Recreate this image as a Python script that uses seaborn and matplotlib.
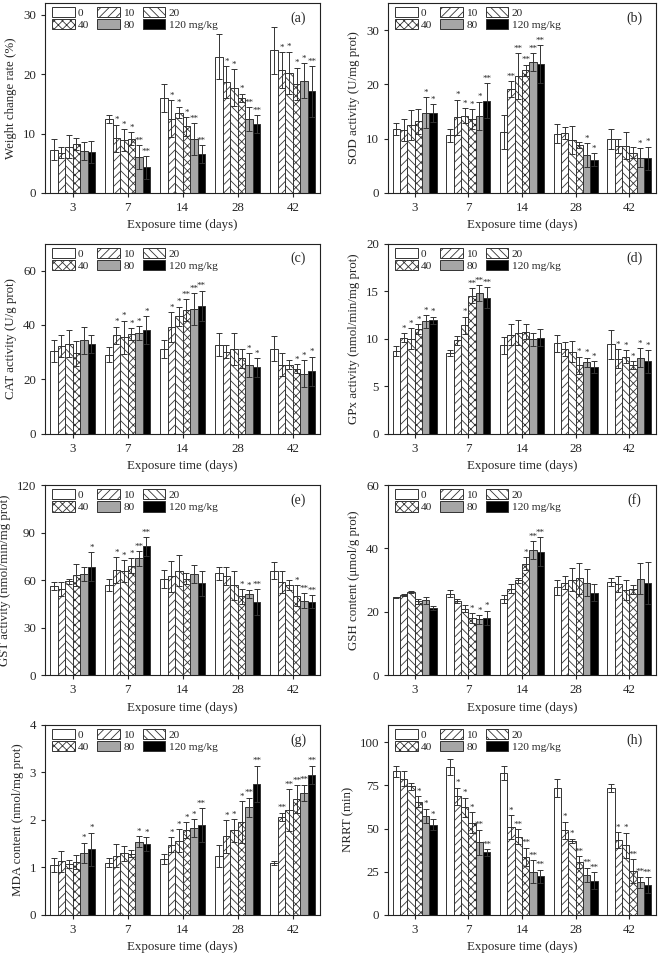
import numpy as np
import pandas as pd
import matplotlib
matplotlib.use('Agg')
import matplotlib.pyplot as plt
import seaborn as sns

days = ['3', '7', '14', '28', '42']
doses = ['0', '10', '20', '40', '80', '120 mg/kg']

# rows = exposure days, columns = doses ; "-" = no significance mark
weight_mean = [[7.3, 6.8, 7.8, 8.3, 7.1, 6.9], [12.4, 9.2, 8.9, 9.1, 6.1, 4.3], [16.0, 12.5, 13.5, 11.2, 9.0, 6.6],
               [22.9, 18.7, 17.7, 16.0, 12.5, 11.6], [24.0, 20.7, 20.2, 18.4, 18.9, 17.1]]
weight_sd = [[1.8, 0.9, 1.9, 1.0, 1.5, 1.9], [0.7, 2.3, 1.8, 1.1, 2.0, 1.9], [2.4, 3.1, 0.9, 1.6, 2.7, 1.5],
             [3.8, 2.7, 3.1, 0.7, 2.0, 1.5], [4.0, 3.0, 3.6, 2.7, 2.9, 4.3]]
weight_sig = ['- - - - - -', '- * * * ** **', '- * * * ** **', '- * * * ** **', '- * * * * **']

sod_mean = [[11.7, 11.6, 12.5, 13.2, 14.8, 14.7], [10.6, 13.9, 14.2, 13.6, 14.2, 17.0], [11.2, 19.1, 21.5, 22.6, 24.1, 23.7],
            [10.9, 11.0, 9.7, 8.8, 6.9, 6.1], [9.9, 8.7, 8.7, 7.4, 6.5, 6.4]]
sod_sd = [[1.1, 2.0, 2.8, 2.3, 2.8, 1.7], [1.2, 3.3, 1.4, 1.8, 2.6, 3.2], [3.1, 1.5, 4.2, 1.0, 1.7, 3.5],
          [1.8, 1.1, 2.6, 0.5, 2.2, 1.2], [1.9, 1.3, 2.5, 1.0, 1.7, 2.1]]
sod_sig = ['- - - - * *', '- * * * * **', '- ** ** ** ** **', '- - - - * *', '- - - - * *']

cat_mean = [[30.4, 32.2, 33.1, 29.5, 34.3, 33.1], [29.1, 36.2, 35.5, 36.6, 37.0, 38.1], [31.2, 39.3, 43.2, 45.6, 45.9, 47.0],
            [32.7, 30.2, 31.0, 27.7, 25.2, 24.4], [31.2, 25.4, 25.4, 23.9, 22.1, 22.9]]
cat_sd = [[4.0, 4.1, 5.0, 4.5, 5.0, 3.3], [2.9, 3.2, 6.1, 2.3, 2.6, 5.2], [3.4, 5.5, 3.6, 4.0, 5.9, 5.6],
          [4.3, 2.4, 5.9, 3.4, 4.3, 3.4], [4.6, 4.1, 1.8, 1.7, 4.9, 5.4]]
cat_sig = ['- - - - - -', '- * * * * *', '- * * ** ** **', '- - - - * *', '- - - * * *']

gpx_mean = [[8.7, 10.1, 10.0, 11.0, 11.8, 11.9], [8.5, 9.8, 11.4, 14.5, 14.8, 14.3], [9.3, 10.4, 10.6, 10.7, 9.9, 10.1],
            [9.5, 8.9, 8.6, 7.2, 7.5, 7.0], [9.4, 7.9, 8.1, 7.2, 8.0, 7.6]]
gpx_sd = [[0.5, 0.5, 1.1, 0.5, 0.7, 0.4], [0.3, 0.5, 0.9, 0.8, 0.8, 1.1], [0.9, 1.1, 1.3, 0.8, 0.7, 0.9],
          [0.9, 0.7, 1.1, 0.9, 0.5, 0.6], [1.5, 1.0, 0.7, 0.4, 1.0, 1.2]]
gpx_sig = ['- * * * * *', '- - * ** ** **', '- - - - - -', '- - - * * *', '- * * * * *']

gst_mean = [[56.4, 54.5, 59.2, 63.0, 64.0, 68.5], [57.2, 66.4, 65.7, 69.0, 73.7, 81.3], [60.8, 62.4, 66.1, 61.0, 63.6, 58.0],
            [64.4, 62.4, 56.7, 49.7, 51.2, 46.3], [66.1, 59.0, 56.7, 50.3, 47.0, 46.5]]
gst_sd = [[2.6, 4.5, 1.8, 7.0, 4.5, 9.0], [3.8, 8.1, 6.8, 4.7, 4.8, 6.0], [5.9, 9.6, 9.7, 3.3, 5.7, 7.9],
          [4.2, 5.6, 9.3, 4.6, 2.4, 8.2], [5.1, 7.1, 3.2, 6.6, 4.8, 4.0]]
gst_sig = ['- - - - - *', '- * * * ** **', '- - - - - -', '- - - * * **', '- - - * ** **']

gsh_mean = [[24.6, 25.2, 26.2, 23.4, 23.6, 21.2], [25.7, 23.5, 21.0, 18.0, 17.6, 18.1], [24.1, 27.3, 29.9, 35.2, 39.5, 39.0],
            [27.7, 29.2, 30.2, 30.6, 29.2, 26.1], [29.3, 28.7, 26.8, 27.1, 30.5, 29.1]]
gsh_sd = [[0.2, 0.3, 0.4, 0.8, 1.0, 0.7], [1.1, 0.7, 1.2, 1.5, 1.3, 2.3], [1.2, 1.5, 0.8, 2.0, 2.8, 4.5],
          [2.3, 2.0, 3.7, 4.9, 4.2, 2.8], [1.3, 2.5, 3.2, 1.5, 4.9, 6.7]]
gsh_sig = ['- - - - - -', '- - - * * *', '- - - * ** **', '- - - - - -', '- - - - - -']

mda_mean = [[1.05, 1.13, 1.07, 1.12, 1.31, 1.38], [1.10, 1.25, 1.30, 1.29, 1.54, 1.49], [1.18, 1.48, 1.56, 1.78, 1.82, 1.89],
            [1.24, 1.65, 1.78, 1.96, 2.27, 2.76], [1.09, 2.06, 2.21, 2.44, 2.57, 2.95]]
mda_sd = [[0.14, 0.22, 0.08, 0.15, 0.21, 0.35], [0.10, 0.24, 0.16, 0.08, 0.11, 0.15], [0.11, 0.15, 0.24, 0.17, 0.19, 0.35],
          [0.23, 0.35, 0.24, 0.44, 0.20, 0.38], [0.05, 0.09, 0.44, 0.29, 0.17, 0.19]]
mda_sig = ['- - - - * *', '- - - - * *', '- * * * * **', '- * * * ** **', '- ** ** ** ** **']

nrrt_mean = [[83.2, 78.9, 74.4, 65.5, 57.3, 52.3], [85.8, 68.6, 62.3, 53.4, 42.0, 36.2], [82.2, 51.0, 45.3, 33.6, 25.0, 22.4],
             [73.5, 48.9, 42.9, 30.5, 23.3, 19.9], [73.4, 43.3, 40.2, 25.5, 19.0, 17.3]]
nrrt_sd = [[3.2, 4.5, 1.9, 3.2, 4.2, 3.2], [4.6, 5.0, 5.6, 6.1, 7.4, 2.0], [4.2, 6.9, 4.5, 5.3, 6.5, 3.8],
           [5.0, 5.0, 1.3, 3.6, 4.0, 4.8], [2.1, 4.5, 7.4, 6.8, 3.2, 4.5]]
nrrt_sig = ['- - - * * *', '- * * * ** **', '- * ** ** ** **', '- * * ** ** **', '- * * ** ** **']

panels = [
    (weight_mean, weight_sd, weight_sig, 'Weight change rate (%)', 32, [0, 10, 20, 30], '(a)'),
    (sod_mean, sod_sd, sod_sig, 'SOD activity (U/mg prot)', 35, [0, 10, 20, 30], '(b)'),
    (cat_mean, cat_sd, cat_sig, 'CAT activity (U/g prot)', 70, [0, 20, 40, 60], '(c)'),
    (gpx_mean, gpx_sd, gpx_sig, 'GPx activity (nmol/min/mg prot)', 20, [0, 5, 10, 15, 20], '(d)'),
    (gst_mean, gst_sd, gst_sig, 'GST activity (nmol/min/mg prot)', 120, [0, 30, 60, 90, 120], '(e)'),
    (gsh_mean, gsh_sd, gsh_sig, 'GSH content (μmol/g prot)', 60, [0, 20, 40, 60], '(f)'),
    (mda_mean, mda_sd, mda_sig, 'MDA content (nmol/mg prot)', 4, [0, 1, 2, 3, 4], '(g)'),
    (nrrt_mean, nrrt_sd, nrrt_sig, 'NRRT (min)', 110, [0, 25, 50, 75, 100], '(h)'),
]

sns.set_style('ticks')
plt.rcParams['font.family'] = ['Liberation Serif', 'DejaVu Serif']
plt.rcParams['font.size'] = 9
plt.rcParams['hatch.linewidth'] = 0.6
plt.rcParams['hatch.color'] = '#333333'

colors = ['white', 'white', 'white', 'white', '#a6a6a6', 'black']
hatches = ['', '////', '\\\\\\\\', 'xxxx', '', '']
edge = '#333333'

fig = plt.figure(figsize=(6.62, 9.55), dpi=100)
lefts = [0.068, 0.586]
widths = [0.416, 0.405]
bottoms = [0.798, 0.546, 0.293, 0.042]

for k, (mean, sd, sig, ylabel, ymax, yticks, tag) in enumerate(panels):
    row, col = divmod(k, 2)
    ax = fig.add_axes([lefts[col], bottoms[row], widths[col], 0.199])
    df = pd.DataFrame({'day': np.repeat(days, len(doses)),
                       'dose': doses * len(days),
                       'value': np.ravel(mean)})
    sns.barplot(data=df, x='day', y='value', hue='dose', order=days, hue_order=doses,
                palette=colors, saturation=1, errorbar=None, width=0.82, gap=0,
                edgecolor=edge, linewidth=0.7, legend=False, ax=ax)
    bar_groups = list(ax.containers)
    sd = np.array(sd)
    stars = [s.split() for s in sig]
    for j, cont in enumerate(bar_groups):
        xs, ys, es = [], [], []
        for i, bar in enumerate(cont.patches):
            bar.set_hatch(hatches[j])
            xs.append(bar.get_x() + bar.get_width() / 2)
            ys.append(bar.get_height())
            es.append(sd[i, j])
        ax.errorbar(xs, ys, yerr=es, fmt='none', ecolor=edge, elinewidth=0.7, capsize=2, capthick=0.7)
        for i in range(len(days)):
            if stars[i][j] != '-':
                ax.text(xs[i], ys[i] + es[i] + ymax * 0.002, stars[i][j], ha='center', va='bottom',
                        fontsize=6.5)

    order = [0, 3, 1, 4, 2, 5]
    ax.legend([bar_groups[i] for i in order], [doses[i] for i in order], ncol=3, loc='upper left',
              bbox_to_anchor=(0.0, 1.015), frameon=False, fontsize=8.2, handlelength=2.0,
              handleheight=1.0, handletextpad=0.3, columnspacing=0.7, labelspacing=0.12,
              borderpad=0.3, borderaxespad=0.3)
    ax.text(0.92, 0.92, tag, transform=ax.transAxes, ha='center', va='center', fontsize=10)

    ax.set_ylim(0, ymax)
    ax.set_yticks(yticks)
    ax.set_xlim(-0.5, 4.5)
    ax.set_xlabel('Exposure time (days)', fontsize=9.3)
    ax.set_ylabel(ylabel, fontsize=9.3)
    ax.tick_params(direction='out', length=3, width=0.8, labelsize=9.3)
    for sp in ax.spines.values():
        sp.set_visible(True)
        sp.set_linewidth(0.8)
        sp.set_color('#222222')

fig.savefig('out.png', dpi=100)
